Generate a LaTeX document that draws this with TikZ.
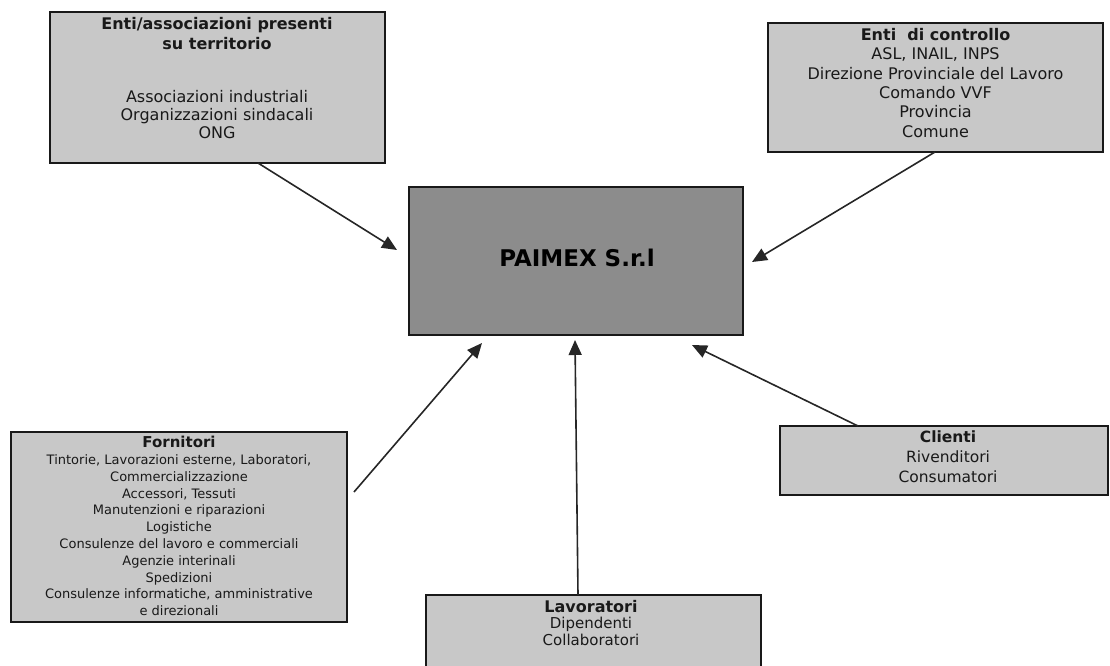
\documentclass[tikz,border=0pt]{standalone}
\usepackage{fontspec}
\setmainfont{DejaVu Sans}
\usetikzlibrary{arrows.meta}
\definecolor{boxgray}{RGB}{200,200,200}
\definecolor{centergray}{RGB}{140,140,140}
\tikzset{
  sidebox/.style={draw=black!90, line width=1.8pt, fill=boxgray, rectangle, inner sep=0pt},
  mainbox/.style={draw=black!90, line width=1.8pt, fill=centergray, rectangle, inner sep=0pt},
  label/.style={inner sep=0pt, align=center, anchor=north, text=black!90},
  link/.style={draw=black!85, line width=1.6pt, -{Triangle[length=15pt,width=13pt]}}
}
\begin{document}
\begin{tikzpicture}[x=1pt,y=-1pt]
\useasboundingbox (0,0) rectangle (1110,666);
% boxes
\node[sidebox, minimum width=335pt, minimum height=151pt] (enti) at (217.5,87.5) {};
\node[sidebox, minimum width=335pt, minimum height=129pt] (controllo) at (935.5,87.5) {};
\node[mainbox, minimum width=334pt, minimum height=148pt] (paimex) at (576,261) {};
\node[sidebox, minimum width=336pt, minimum height=190pt] (fornitori) at (179,527) {};
\node[sidebox, minimum width=335pt, minimum height=80pt] (lavoratori) at (593.5,635) {};
\node[sidebox, minimum width=328pt, minimum height=69pt] (clienti) at (944,460.5) {};
% texts
\node[label, font=\fontsize{16}{20}\selectfont\bfseries] (entiT) at (217,17) {Enti/associazioni presenti\\su territorio};
\node[label, font=\fontsize{16}{18}\selectfont] (entiB) at (217,90) {Associazioni industriali\\Organizzazioni sindacali\\ONG};
\node[label, font=\fontsize{16}{19.4}\selectfont] (controlloT) at (935.5,28) {\textbf{Enti\ \ di controllo}\\ASL, INAIL, INPS\\Direzione Provinciale del Lavoro\\Comando VVF\\Provincia\\Comune};
\node[inner sep=0pt, font=\fontsize{23}{23}\selectfont\bfseries] (paimexT) at (577,258) {PAIMEX S.r.l};
\node[label, font=\fontsize{13}{16.8}\selectfont] (fornitoriT) at (179,436) {{\fontsize{15}{16.8}\selectfont\bfseries Fornitori}\\Tintorie, Lavorazioni esterne, Laboratori,\\Commercializzazione\\Accessori, Tessuti\\Manutenzioni e riparazioni\\Logistiche\\Consulenze del lavoro e commerciali\\Agenzie interinali\\Spedizioni\\Consulenze informatiche, amministrative\\e direzionali};
\node[label, font=\fontsize{15}{16.5}\selectfont] (lavoratoriT) at (591,600) {{\fontsize{16}{16.5}\selectfont\bfseries Lavoratori}\\Dipendenti\\Collaboratori};
\node[label, font=\fontsize{15.5}{20}\selectfont] (clientiT) at (948,431) {\textbf{Clienti}\\Rivenditori\\Consumatori};
% connector end points
\coordinate (s1) at (258,163);
\coordinate (t1) at (397,250);
\coordinate (s2) at (935,152);
\coordinate (t2) at (752,262);
\coordinate (s3) at (354,492);
\coordinate (t3) at (482,343);
\coordinate (s4) at (578,595);
\coordinate (t4) at (575,340);
\coordinate (s5) at (858,426);
\coordinate (t5) at (692,345);
\draw[link] (s1) -- (t1);
\draw[link] (s2) -- (t2);
\draw[link] (s3) -- (t3);
\draw[link] (s4) -- (t4);
\draw[link] (s5) -- (t5);
\end{tikzpicture}
\end{document}
